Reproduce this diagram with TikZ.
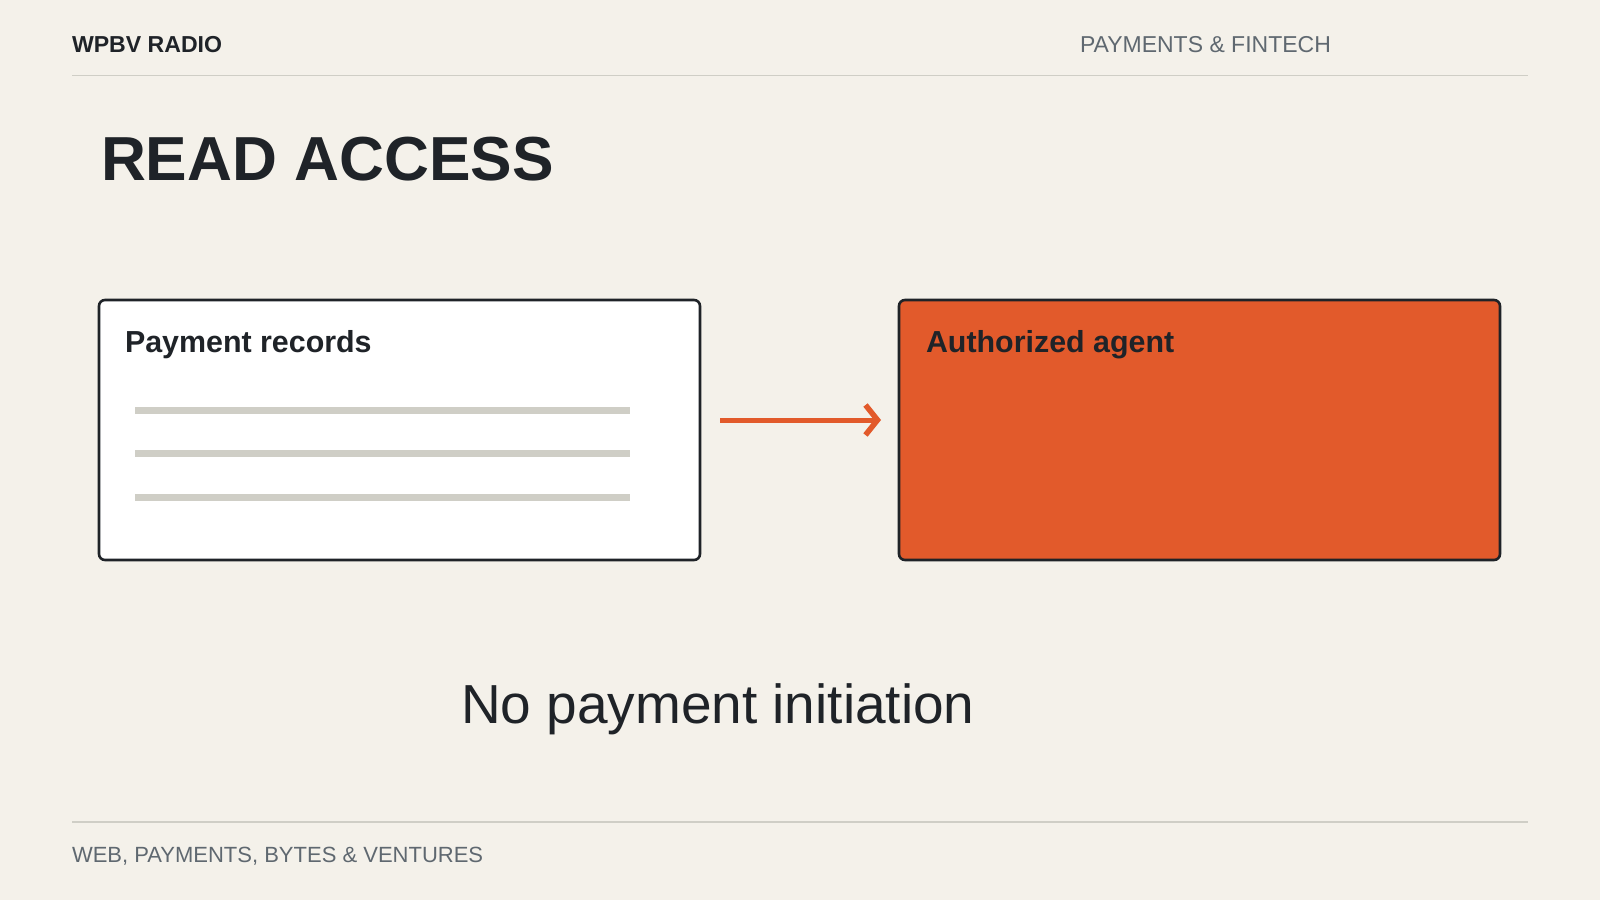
\documentclass[tikz,border=0pt]{standalone}
\usepackage{fontspec}
\setmainfont{Liberation Sans}
\usetikzlibrary{arrows.meta}
\definecolor{bg}{HTML}{F4F1EA}
\definecolor{ink}{HTML}{1F2328}
\definecolor{muted}{HTML}{5F6870}
\definecolor{rule}{HTML}{CFCEC6}
\definecolor{accent}{HTML}{E25A2B}
\tikzset{
  txt/.style={inner sep=0pt, outer sep=0pt, anchor=base west, text=ink},
  card/.style={draw=ink, line width=2.6pt, rounded corners=6pt},
  bar/.style={draw=rule, line width=7pt},
  hrule/.style={draw=rule, line width=1.6pt},
  flow/.style={draw=accent, line width=5pt, -{Straight Barb[length=12pt,width=30pt,line width=5.5pt]}},
}
\begin{document}
\begin{tikzpicture}[x=1pt,y=-1pt]
\useasboundingbox[fill=bg] (0,0) rectangle (1600,900);
% header
\node[txt, font=\bfseries\fontsize{23.1}{26}\selectfont] (brand) at (72,52) {WPBV RADIO};
\node[txt, text=muted, font=\fontsize{23}{26}\selectfont] (topic) at (1080,52) {PAYMENTS \& FINTECH};
\coordinate (hl) at (72,75.5); \coordinate (hr) at (1528,75.5);
\draw[hrule] (hl) -- (hr);
% title
\node[txt, font=\bfseries\fontsize{62.2}{70}\selectfont] (title) at (101,180) {READ ACCESS};
% cards
\draw[card, fill=white] (99,300) rectangle (700,560);
\node[txt, font=\bfseries\fontsize{30.4}{34}\selectfont] (rec) at (125,352.5) {Payment records};
\coordinate (b1l) at (135,410); \coordinate (b1r) at (630,410);
\coordinate (b2l) at (135,453); \coordinate (b2r) at (630,453);
\coordinate (b3l) at (135,497); \coordinate (b3r) at (630,497);
\draw[bar] (b1l) -- (b1r);
\draw[bar] (b2l) -- (b2r);
\draw[bar] (b3l) -- (b3r);
\draw[card, fill=accent] (899,300) rectangle (1500,560);
\node[txt, font=\bfseries\fontsize{30.4}{34}\selectfont] (agent) at (926,352.5) {Authorized agent};
% arrow
\coordinate (as) at (720,420); \coordinate (ae) at (881,420);
\draw[flow] (as) -- (ae);
% caption
\node[txt, font=\fontsize{55}{62}\selectfont] (cap) at (461,723) {No payment initiation};
% footer
\coordinate (fl) at (72,822); \coordinate (fr) at (1528,822);
\draw[hrule] (fl) -- (fr);
\node[txt, text=muted, font=\fontsize{22}{26}\selectfont] (foot) at (72,862) {WEB, PAYMENTS, BYTES \& VENTURES};
\end{tikzpicture}
\end{document}
